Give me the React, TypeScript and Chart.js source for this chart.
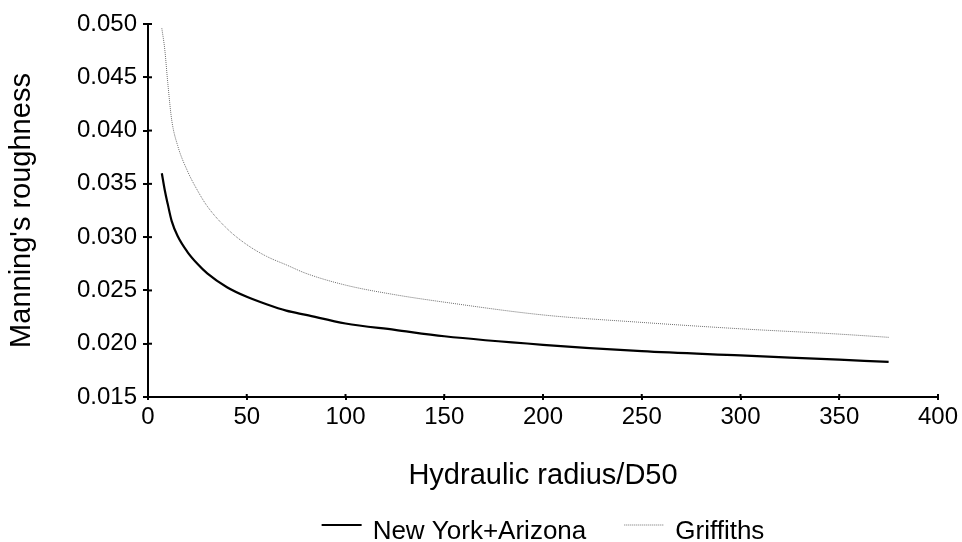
import React, { useEffect, useRef } from "react";
import { Chart, registerables } from "chart.js";

Chart.register(...registerables);

const FONT = "'Liberation Sans', Arial, sans-serif";

const xValues = [7, 8.5, 10, 12, 15, 20, 25, 30, 40, 50, 60, 70, 80, 100, 125, 150, 200, 250, 300, 350, 375];
const newYorkArizona = [0.0360, 0.0344, 0.0331, 0.0315, 0.0301, 0.0286, 0.0275, 0.0266, 0.0253, 0.0244, 0.0237, 0.0231, 0.0227, 0.0219, 0.0213, 0.0207, 0.0199, 0.0193, 0.0189, 0.0185, 0.0183];
const griffiths = [0.0496, 0.0476, 0.0445, 0.0410, 0.0386, 0.0362, 0.0344, 0.0329, 0.0308, 0.0293, 0.0282, 0.0274, 0.0266, 0.0255, 0.0246, 0.0239, 0.0227, 0.0220, 0.0214, 0.0209, 0.0206];

const seriesNames = ["New York+Arizona", "Griffiths"];
const xTitle = "Hydraulic radius/D50";
const yTitle = "Manning's roughness";
const xMin = 0, xMax = 400, xStep = 50;
const yMin = 0.015, yMax = 0.05, yStep = 0.005;

const crossTicks = {
  id: "crossTicks",
  afterDraw(chart: any) {
    const { ctx, chartArea } = chart;
    const xs = chart.scales.x;
    const ys = chart.scales.y;
    ctx.save();
    ctx.strokeStyle = "#000";
    ctx.lineWidth = 2;
    xs.ticks.forEach((_: any, i: number) => {
      const px = xs.getPixelForTick(i);
      ctx.beginPath();
      ctx.moveTo(px, chartArea.bottom);
      ctx.lineTo(px, chartArea.bottom - 3);
      ctx.stroke();
    });
    ys.ticks.forEach((_: any, i: number) => {
      const py = ys.getPixelForTick(i);
      ctx.beginPath();
      ctx.moveTo(chartArea.left, py);
      ctx.lineTo(chartArea.left + 4, py);
      ctx.stroke();
    });
    ctx.restore();
  },
};

const bottomLegend = {
  id: "bottomLegend",
  afterDraw(chart: any) {
    const { ctx, chartArea } = chart;
    const lineW = 40, textGap = 11, itemGap = 38;
    ctx.save();
    ctx.font = `26px ${FONT}`;
    const items = chart.data.datasets.map((ds: any) => ({
      ds,
      w: lineW + textGap + ctx.measureText(ds.label).width,
    }));
    const total = items.reduce((s: number, it: any) => s + it.w, 0) + itemGap * (items.length - 1);
    let x = (chartArea.left + chartArea.right) / 2 - total / 2;
    const lineY = chart.height - 17;
    const baseY = chart.height - 3;
    items.forEach((it: any) => {
      ctx.beginPath();
      ctx.strokeStyle = it.ds.borderColor;
      ctx.lineWidth = it.ds.borderWidth;
      ctx.setLineDash(it.ds.borderDash || []);
      ctx.moveTo(x, lineY);
      ctx.lineTo(x + lineW, lineY);
      ctx.stroke();
      ctx.setLineDash([]);
      ctx.fillStyle = "#000";
      ctx.textBaseline = "alphabetic";
      ctx.textAlign = "left";
      ctx.fillText(it.ds.label, x + lineW + textGap, baseY);
      x += it.w + itemGap;
    });
    ctx.restore();
  },
};

export default function App() {
  const ref = useRef<HTMLCanvasElement>(null);
  useEffect(() => {
    const chart = new Chart(ref.current as HTMLCanvasElement, {
      type: "line",
      data: {
        datasets: [
          {
            label: seriesNames[0],
            data: xValues.map((x, i) => ({ x, y: newYorkArizona[i] })),
            borderColor: "#000000",
            borderWidth: 2.2,
            pointRadius: 0,
            cubicInterpolationMode: "monotone",
          },
          {
            label: seriesNames[1],
            data: xValues.map((x, i) => ({ x, y: griffiths[i] })),
            borderColor: "#6e6e6e",
            borderWidth: 1,
            borderDash: [1, 1],
            pointRadius: 0,
            cubicInterpolationMode: "monotone",
          },
        ],
      },
      options: {
        animation: false,
        responsive: false,
        devicePixelRatio: 1,
        layout: { padding: { top: 24, right: 24, bottom: 0, left: 0 } },
        plugins: {
          legend: { display: false },
          tooltip: { enabled: false },
        },
        scales: {
          x: {
            type: "linear",
            min: xMin,
            max: xMax,
            afterFit: (s: any) => { s.height = 145; },
            ticks: {
              stepSize: xStep,
              color: "#000",
              font: { family: FONT, size: 24 },
              padding: 3,
              maxRotation: 0,
            },
            grid: { drawOnChartArea: false, color: "#000", lineWidth: 2, tickLength: 3 },
            border: { color: "#000", width: 2 },
            title: {
              display: true,
              text: xTitle,
              color: "#000",
              font: { family: FONT, size: 29 },
              padding: { top: 0, bottom: 49 },
            },
          },
          y: {
            type: "linear",
            min: yMin,
            max: yMax,
            afterFit: (s: any) => { s.width = 148; },
            ticks: {
              stepSize: yStep,
              color: "#000",
              font: { family: FONT, size: 24 },
              padding: 6,
              callback: (v: any) => Number(v).toFixed(3),
            },
            grid: { drawOnChartArea: false, color: "#000", lineWidth: 2, tickLength: 5 },
            border: { color: "#000", width: 2 },
            title: {
              display: true,
              text: yTitle,
              color: "#000",
              font: { family: FONT, size: 29 },
              padding: { top: 5, bottom: 0 },
            },
          },
        },
      },
      plugins: [crossTicks, bottomLegend],
    } as any);
    return () => chart.destroy();
  }, []);
  return (
    <div style={{ position: "fixed", left: 0, top: 0, width: 962, height: 542, background: "#fff" }}>
      <canvas ref={ref} width={962} height={542} />
    </div>
  );
}
